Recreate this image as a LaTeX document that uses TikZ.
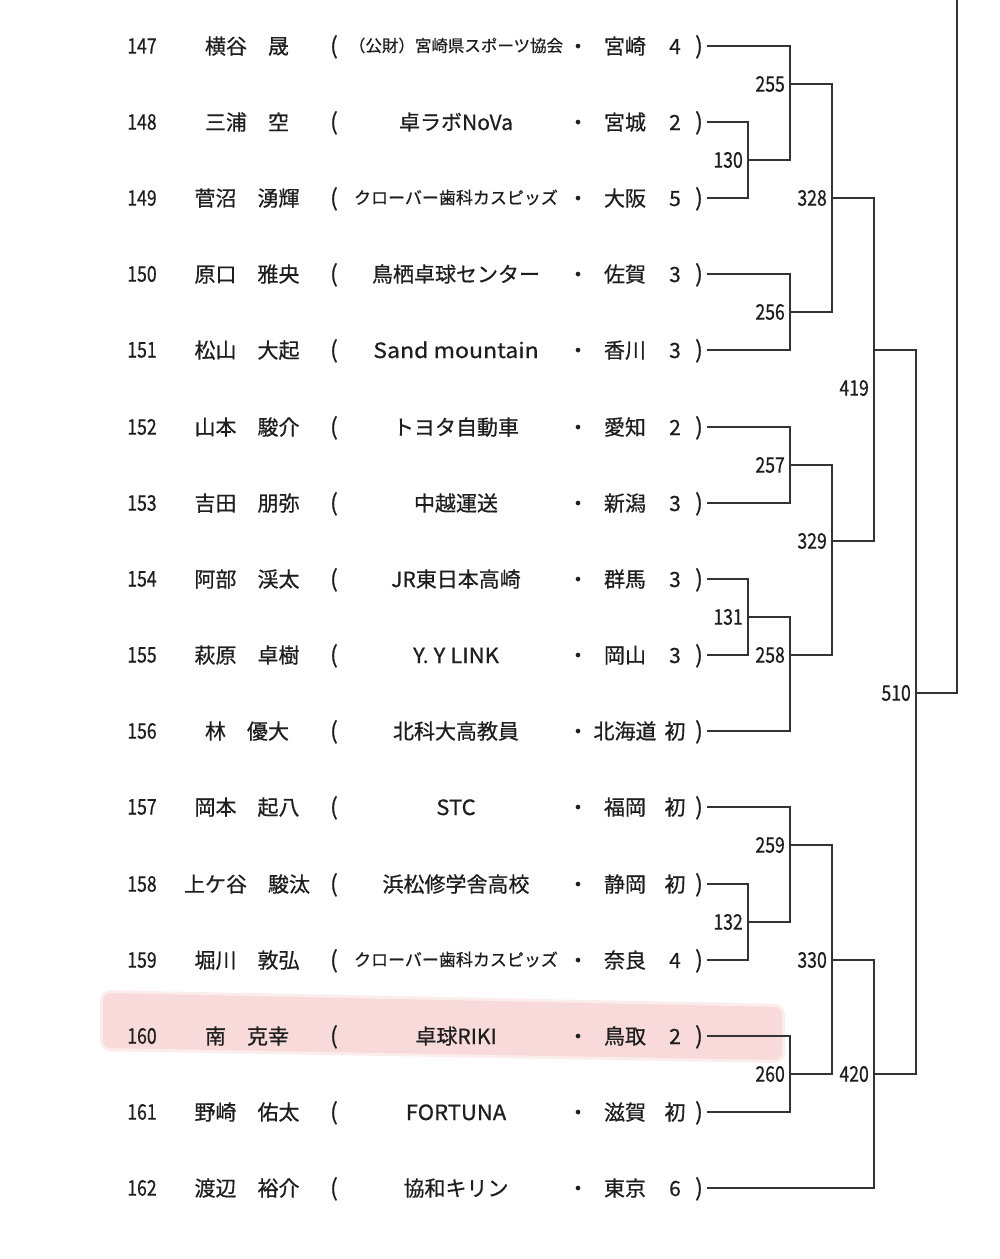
\documentclass[tikz,border=0pt]{standalone}
\usepackage{fontspec}
\setmainfont{Noto Sans CJK JP}[RawFeature={embolden=0.6}]
\definecolor{linec}{HTML}{333333}
\definecolor{textc}{HTML}{1E1E1E}
\definecolor{hlpink}{HTML}{F8DADA}
\definecolor{hlsoft}{HTML}{FCEDED}
\newcommand{\nar}[1]{\scalebox{0.82}[1]{#1}}
\begin{document}
\begin{tikzpicture}[x=1pt,y=-1pt,
  ln/.style={draw=linec, line width=1.8pt},
  txt/.style={inner sep=0pt, anchor=base, text=textc, font=\fontsize{21}{21}\selectfont},
  numtxt/.style={inner sep=0pt, anchor=center, text=textc, font=\fontsize{21.5}{21.5}\selectfont},
  lab/.style={numtxt, anchor=east}]
\useasboundingbox (0,0) rectangle (1000,1259);
\fill[white] (0,0) rectangle (1000,1259);
% highlight
\fill[hlsoft, rounded corners=10pt] (100,990) -- (785,1004) -- (785,1063) -- (100,1051) -- cycle;
\fill[hlpink, rounded corners=8pt] (103,993) -- (782,1007) -- (782,1060) -- (103,1048) -- cycle;
% rows
\foreach \n/\y/\nm/\tm/\ts/\tx/\pf/\sd in {
 147/46/横谷　晟/（公財）宮崎県スポーツ協会/16.5/1/宮崎/4,
 148/122/三浦　空/卓ラボNoVa/21/1/宮城/2,
 149/198/菅沼　湧輝/クローバー歯科カスピッズ/17/1/大阪/5,
 150/274/原口　雅央/鳥栖卓球センター/21/1/佐賀/3,
 151/350/松山　大起/Sand mountain/21/1.1/香川/3,
 152/427/山本　駿介/トヨタ自動車/21/1/愛知/2,
 153/503/吉田　朋弥/中越運送/21/1/新潟/3,
 154/579/阿部　渓太/JR東日本高崎/21/1/群馬/3,
 155/655/萩原　卓樹/Y. Y LINK/21/1.05/岡山/3,
 156/731/林　優大/北科大高教員/21/1/北海道/初,
 157/807/岡本　起八/STC/21/1.05/福岡/初,
 158/884/上ケ谷　駿汰/浜松修学舎高校/21/1/静岡/初,
 159/960/堀川　敦弘/クローバー歯科カスピッズ/17/1/奈良/4,
 160/1036/南　克幸/卓球RIKI/21/1/鳥取/2,
 161/1112/野崎　佑太/FORTUNA/21/1.05/滋賀/初,
 162/1188/渡辺　裕介/協和キリン/21/1/東京/6}{
  \node[numtxt] (no\n) at (142,\y) {\nar{\n}};
  \node[txt] (nm\n) at (247,\y+8) {\nm};
  \node[txt, font=\fontsize{23}{23}\selectfont] (lp\n) at (334,\y+8) {(};
  \node[txt, font=\fontsize{\ts}{\ts}\selectfont] (tm\n) at (456,\y+8-0.5*21+0.5*\ts) {\scalebox{\tx}[1]{\tm}};
  \node[txt] (dt\n) at (578,\y+8) {・};
  \node[txt] (pf\n) at (625,\y+8) {\pf};
  \node[txt] (sd\n) at (675,\y+8) {\sd};
  \node[txt, font=\fontsize{23}{23}\selectfont] (rp\n) at (699,\y+8) {)};
  \coordinate (s\n) at (707,\y);
}
% bracket joins
\coordinate (m130) at (748,160);
\coordinate (m131) at (748,617);
\coordinate (m132) at (748,922);
\coordinate (m255) at (790,84);
\coordinate (m256) at (790,312);
\coordinate (m257) at (790,465);
\coordinate (m258) at (790,655);
\coordinate (m259) at (790,845);
\coordinate (m260) at (790,1074);
\coordinate (m328) at (832,198);
\coordinate (m329) at (832,541);
\coordinate (m330) at (832,960);
\coordinate (m419) at (874,350);
\coordinate (m420) at (874,1074);
\coordinate (m510) at (916,693);
\coordinate (top) at (957,0);
% connectors
\draw[ln] (s148) -| (m130) |- (s149);
\draw[ln] (s154) -| (m131) |- (s155);
\draw[ln] (s158) -| (m132) |- (s159);
\draw[ln] (s147) -| (m255) |- (m130);
\draw[ln] (s150) -| (m256) |- (s151);
\draw[ln] (s152) -| (m257) |- (s153);
\draw[ln] (m131) -| (m258) |- (s156);
\draw[ln] (s157) -| (m259) |- (m132);
\draw[ln] (s160) -| (m260) |- (s161);
\draw[ln] (m255) -| (m328) |- (m256);
\draw[ln] (m257) -| (m329) |- (m258);
\draw[ln] (m259) -| (m330) |- (m260);
\draw[ln] (m328) -| (m419) |- (m329);
\draw[ln] (m330) -| (m420) |- (s162);
\draw[ln] (m419) -| (m510) |- (m420);
\draw[ln] (m510) -| (top);
% labels
\foreach \m in {130,131,132,255,256,257,258,259,260,328,329,330,420,510}{
  \node[lab] (l\m) at ([xshift=-5pt]m\m) {\nar{\m}};
}
\node[lab] (l419) at (869,388) {\nar{419}};
\end{tikzpicture}
\end{document}
